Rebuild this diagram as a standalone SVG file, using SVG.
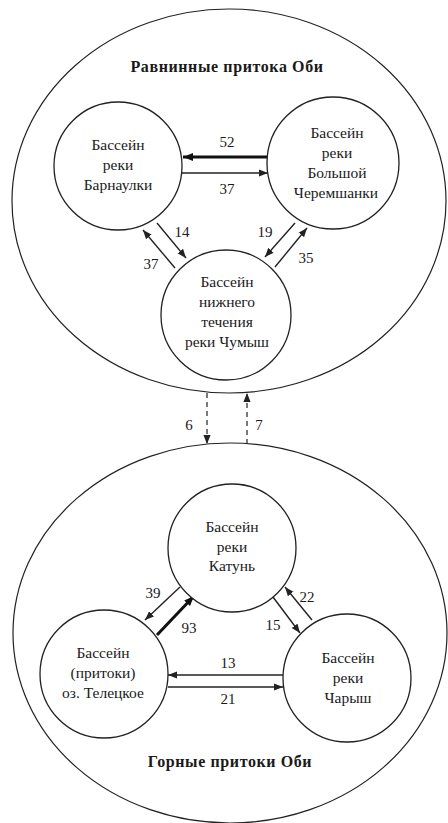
<svg xmlns="http://www.w3.org/2000/svg" width="448" height="823" viewBox="0 0 448 823">
<style>
.bg{fill:#fff}
.outer{fill:none;stroke:#222;stroke-width:1.2}
.node{fill:#fff;stroke:#222;stroke-width:1.3}
.t{font-family:"Liberation Serif","Times New Roman","DejaVu Serif",serif;font-size:15.5px;fill:#1a1a1a;text-anchor:middle}
.n{font-family:"Liberation Serif","Times New Roman","DejaVu Serif",serif;font-size:15px;fill:#1a1a1a;text-anchor:middle}
.title{font-family:"Liberation Serif","Times New Roman","DejaVu Serif",serif;font-size:16px;font-weight:bold;fill:#1a1a1a;text-anchor:middle;letter-spacing:0.6px}
.thin{stroke:#222;stroke-width:1.4;fill:none;marker-end:url(#ah)}
.thick{stroke:#111;stroke-width:3;fill:none;marker-end:url(#ahb)}
.dash{stroke:#222;stroke-width:1.2;fill:none;stroke-dasharray:5,4;marker-end:url(#ah)}
</style>
<defs>
<marker id="ah" viewBox="0 0 10 10" refX="10" refY="5" markerWidth="9" markerHeight="9" markerUnits="userSpaceOnUse" orient="auto"><path d="M0,1 L10,5 L0,9 z" fill="#222"/></marker>
<marker id="ahb" viewBox="0 0 10 10" refX="10" refY="5" markerWidth="10" markerHeight="10" markerUnits="userSpaceOnUse" orient="auto"><path d="M0,1 L10,5 L0,9 z" fill="#111"/></marker>
</defs>
<rect class="bg" x="0" y="0" width="448" height="823"/>
<g id="plain">
<ellipse class="outer" cx="229" cy="201" rx="217" ry="192"/>
<text class="title" x="227" y="72">Равнинные притока Оби</text>
</g>
<g id="mountain">
<ellipse class="outer" cx="230" cy="633" rx="217" ry="190"/>
<text class="title" x="230" y="767">Горные притоки Оби</text>
</g>
<g id="connectors">
<line class="thick" x1="268" y1="157" x2="183" y2="157"/>
<line class="thin" x1="182" y1="173" x2="268" y2="173"/>
<line class="thin" x1="157" y1="223" x2="186" y2="258"/>
<line class="thin" x1="175" y1="268" x2="143" y2="230"/>
<line class="thin" x1="295" y1="223" x2="265" y2="257"/>
<line class="thin" x1="275" y1="267" x2="307" y2="228"/>
<line class="dash" x1="207" y1="393" x2="207" y2="444"/>
<line class="dash" x1="247" y1="444" x2="247" y2="393"/>
<line class="thin" x1="283" y1="675" x2="168" y2="675"/>
<line class="thin" x1="168" y1="687" x2="283" y2="687"/>
<line class="thin" x1="180" y1="587" x2="145" y2="620"/>
<line class="thick" x1="157" y1="635" x2="194" y2="596"/>
<line class="thin" x1="273" y1="597" x2="300" y2="633"/>
<line class="thin" x1="312" y1="620" x2="285" y2="587"/>
<text class="n" x="227" y="147">52</text>
<text class="n" x="227" y="194">37</text>
<text class="n" x="182" y="237">14</text>
<text class="n" x="151" y="269">37</text>
<text class="n" x="265" y="237">19</text>
<text class="n" x="306" y="263">35</text>
<text class="n" x="189" y="430">6</text>
<text class="n" x="259" y="430">7</text>
<text class="n" x="153" y="598">39</text>
<text class="n" x="189" y="633">93</text>
<text class="n" x="273" y="630">15</text>
<text class="n" x="307" y="602">22</text>
<text class="n" x="228" y="668">13</text>
<text class="n" x="228" y="704">21</text>
</g>
<g id="barnaulka">
<circle class="node" cx="118" cy="166" r="64"/>
<text class="t" x="118" y="150">Бассейн</text>
<text class="t" x="118" y="170">реки</text>
<text class="t" x="118" y="190">Барнаулки</text>
</g>
<g id="cheremshanka">
<circle class="node" cx="333" cy="163" r="66"/>
<text class="t" x="337" y="138">Бассейн</text>
<text class="t" x="337" y="158">реки</text>
<text class="t" x="337" y="178">Большой</text>
<text class="t" x="336" y="198">Черемшанки</text>
</g>
<g id="chumysh">
<circle class="node" cx="226" cy="315" r="65"/>
<text class="t" x="227" y="287">Бассейн</text>
<text class="t" x="227" y="307">нижнего</text>
<text class="t" x="227" y="327">течения</text>
<text class="t" x="227" y="347">реки Чумыш</text>
</g>
<g id="katun">
<circle class="node" cx="232" cy="548" r="64"/>
<text class="t" x="232" y="532">Бассейн</text>
<text class="t" x="232" y="552">реки</text>
<text class="t" x="232" y="571">Катунь</text>
</g>
<g id="teletskoe">
<circle class="node" cx="104" cy="674" r="64"/>
<text class="t" x="103" y="658">Бассейн</text>
<text class="t" x="103" y="678">(притоки)</text>
<text class="t" x="103" y="698">оз. Телецкое</text>
</g>
<g id="charysh">
<circle class="node" cx="347" cy="678" r="64"/>
<text class="t" x="348" y="663">Бассейн</text>
<text class="t" x="348" y="683">реки</text>
<text class="t" x="348" y="703">Чарыш</text>
</g>
</svg>
